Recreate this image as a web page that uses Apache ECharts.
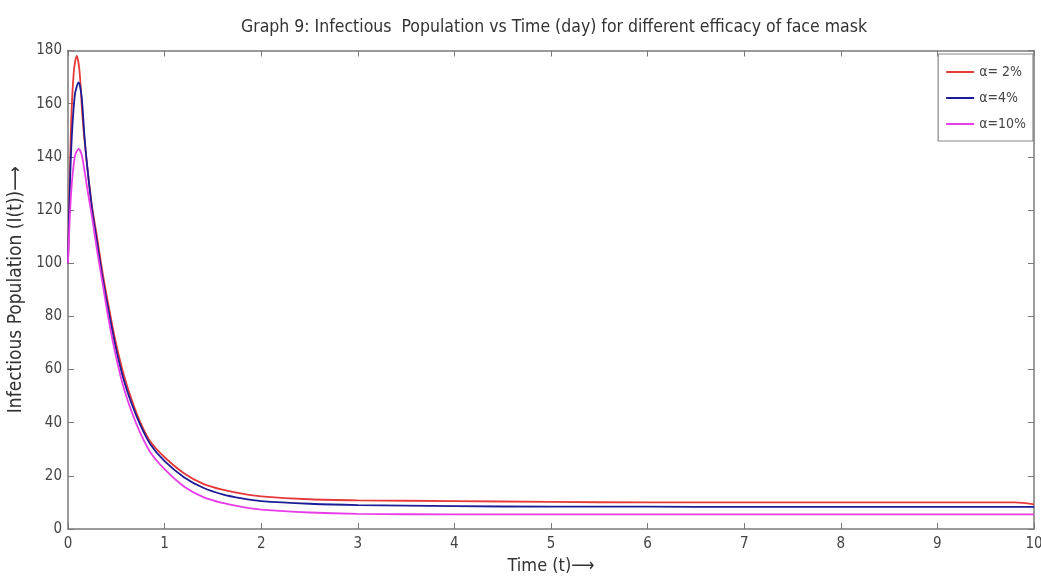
<!DOCTYPE html>
<html>
<head>
<meta charset="utf-8">
<script src="https://cdn.jsdelivr.net/npm/echarts@6/dist/echarts.min.js"></script>
<style>html,body{margin:0;padding:0;background:#fff;}#c{width:1041px;height:581px;}</style>
</head>
<body>
<div id="c"></div>
<script>
const titleText = 'Graph 9: Infectious  Population vs Time (day) for different efficacy of face mask';
const xName = 'Time (t)\u27F6';
const yName = 'Infectious Population (I(t))\u27F6';
const seriesNames = ['\u03B1= 2%', '\u03B1=4%', '\u03B1=10%'];
const xTicks = [0,1,2,3,4,5,6,7,8,9,10];
const yTicks = [0,20,40,60,80,100,120,140,160,180];

const tRed = [0,0.03,0.06,0.09,0.12,0.15,0.2,0.25,0.3,0.36,0.42,0.49,0.57,0.66,0.75,0.85,1.0,1.2,1.4,1.6,1.8,2,2.5,3,4,5,6,7,8,9,9.8,10];
const iRed = [100,150,172,178,172,155,136,121,110,96,84,71,59,48.5,40,33,27,21,17,14.8,13.3,12.3,11.2,10.8,10.5,10.2,10,10,10,10,10,9.3];

const tBlue = [0,0.03,0.07,0.11,0.14,0.17,0.2,0.25,0.3,0.36,0.42,0.49,0.57,0.66,0.75,0.85,1.0,1.2,1.4,1.6,1.8,2,2.5,3,4,5,6,7,8,9,10];
const iBlue = [100,140,163,168,163,148,136,120,108,94,82,69,57,47,39,32,25.5,19.5,15.5,13,11.5,10.5,9.5,9,8.6,8.4,8.4,8.3,8.3,8.3,8.3];

const tMag = [0,0.03,0.07,0.11,0.14,0.17,0.2,0.25,0.3,0.36,0.42,0.49,0.57,0.66,0.75,0.85,1.0,1.2,1.4,1.6,1.8,2,2.5,3,4,5,6,7,8,9,10];
const iMag = [100,125,140,143,141,135,128,117,105,92,79,66,54,44,36,29,22.5,16,12,9.8,8.3,7.3,6.2,5.7,5.5,5.5,5.5,5.5,5.5,5.5,5.5];

const colors = ['#e63a3a', '#1c1c96', '#e83ce8'];
const zip = (a, b) => a.map((v, i) => [v, b[i]]);
const font = "'DejaVu Sans Condensed','Liberation Sans Narrow',sans-serif";

const chart = echarts.init(document.getElementById('c'), null, {renderer: 'canvas'});
const axisLine = {show: true, onZero: false, lineStyle: {color: '#7a7a7a', width: 1.5}};
const tick = {show: true, inside: true, length: 6, lineStyle: {color: '#7a7a7a'}};
chart.setOption({
  animation: false,
  backgroundColor: '#fff',
  title: {text: titleText, left: 236, top: 13,
    textStyle: {fontFamily: font, fontSize: 17.5, fontWeight: 'normal', color: '#333'}},
  grid: {left: 68, right: 7, top: 50.5, bottom: 52, outerBoundsMode: 'none', containLabel: false},
  legend: {
    right: 8, top: 54, orient: 'vertical', itemWidth: 28, itemHeight: 2, itemGap: 12,
    padding: [11, 7, 10, 8],
    borderColor: '#888', borderWidth: 1.2, backgroundColor: '#fff',
    icon: 'rect',
    textStyle: {fontFamily: font, fontSize: 14, color: '#444'},
    data: seriesNames
  },
  xAxis: [{
    type: 'value', min: 0, max: 10, interval: 1,
    name: xName, nameLocation: 'middle', nameGap: 28,
    nameTextStyle: {fontFamily: font, fontSize: 18, color: '#333'},
    axisLine: axisLine, axisTick: tick,
    axisLabel: {fontFamily: font, fontSize: 15, color: '#444', margin: 8, formatter: v => xTicks.includes(v) ? String(v) : ''},
    splitLine: {show: false}
  }, {
    type: 'value', position: 'top', min: 0, max: 10, interval: 1,
    axisLine: axisLine, axisTick: tick,
    axisLabel: {show: false}, splitLine: {show: false}
  }],
  yAxis: [{
    type: 'value', min: 0, max: 180, interval: 20,
    name: yName, nameLocation: 'middle', nameGap: 40, nameRotate: 90,
    nameTextStyle: {fontFamily: font, fontSize: 19, color: '#333'},
    axisLine: axisLine, axisTick: tick,
    axisLabel: {fontFamily: font, fontSize: 15, color: '#444', margin: 6, formatter: v => yTicks.includes(v) ? String(v) : ''},
    splitLine: {show: false}
  }, {
    type: 'value', position: 'right', min: 0, max: 180, interval: 20,
    axisLine: axisLine, axisTick: tick,
    axisLabel: {show: false}, splitLine: {show: false}
  }],
  series: [
    {name: seriesNames[0], type: 'line', data: zip(tRed, iRed), smooth: 0.3, showSymbol: false, symbol: 'none',
      lineStyle: {color: colors[0], width: 1.8}, itemStyle: {color: colors[0]}},
    {name: seriesNames[1], type: 'line', data: zip(tBlue, iBlue), smooth: 0.3, showSymbol: false, symbol: 'none',
      lineStyle: {color: colors[1], width: 1.8}, itemStyle: {color: colors[1]}},
    {name: seriesNames[2], type: 'line', data: zip(tMag, iMag), smooth: 0.3, showSymbol: false, symbol: 'none',
      lineStyle: {color: colors[2], width: 1.8}, itemStyle: {color: colors[2]}}
  ]
});
</script>
</body>
</html>
